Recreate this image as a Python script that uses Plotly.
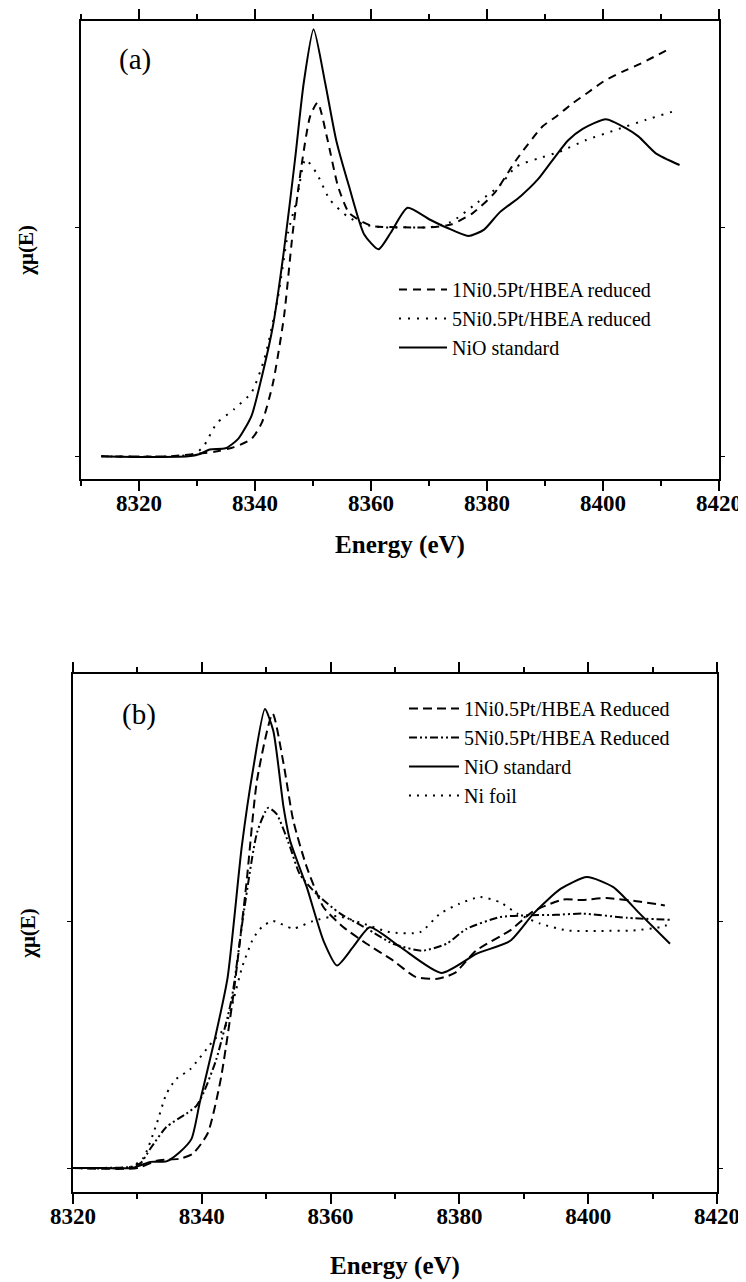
import plotly.graph_objects as go

# ---------------- data: panel (a) ----------------
E_a_1ni = [8313.5, 8325, 8333, 8336.4, 8339.4, 8341.2, 8343.1, 8345.0, 8346.5, 8348.0, 8349.5, 8350.8,
           8352.5, 8354.3, 8356.2, 8358.8, 8360.3, 8365, 8370, 8373.8, 8377.6, 8381.3, 8385.1, 8389.6,
           8391.9, 8394.8, 8397.6, 8400.1, 8403.4, 8406.1, 8408.3, 8411.7]
V_a_1ni = [0.0, 0.0, 0.02, 0.04, 0.076, 0.148, 0.32, 0.61, 0.976, 1.266, 1.484, 1.545,
           1.383, 1.18, 1.063, 1.02, 1.005, 1.0, 1.0, 1.012, 1.063, 1.15, 1.296, 1.441,
           1.483, 1.542, 1.592, 1.637, 1.68, 1.71, 1.738, 1.782]

E_a_5ni = [8313.5, 8325, 8329.5, 8331.1, 8333.4, 8336.4, 8339.4, 8341.6, 8343.9, 8345.7, 8347.2, 8348.7,
           8350.6, 8352.9, 8355.9, 8358.8, 8362, 8366, 8370, 8373.8, 8378.3, 8382.1, 8385.1, 8388.8,
           8392.5, 8397.1, 8402.2, 8407.4, 8412.9]
V_a_5ni = [0.0, 0.0, 0.01, 0.042, 0.144, 0.206, 0.279, 0.424, 0.686, 0.976, 1.121, 1.296,
           1.237, 1.121, 1.048, 1.012, 1.0, 1.0, 1.0, 1.023, 1.107, 1.18, 1.266, 1.30,
           1.33, 1.381, 1.425, 1.469, 1.512]

E_a_nio = [8313.5, 8320, 8328.5, 8330.5, 8332.2, 8334.9, 8337.1, 8339.4, 8341.2, 8343.1, 8345.0, 8346.9,
           8348.4, 8350.1, 8352.1, 8354.0, 8356.2, 8358.8, 8361.3, 8363.4, 8366.3, 8370.1, 8373.1,
           8376.8, 8379.5, 8382.1, 8385.8, 8388.8, 8391.5, 8394.0, 8396.5, 8400.5, 8404.0, 8406.1,
           8409.1, 8413.2]
V_a_nio = [0.0, -0.003, 0.0, 0.01, 0.03, 0.035, 0.076, 0.177, 0.35, 0.57, 0.90, 1.296,
           1.63, 1.865, 1.63, 1.38, 1.18, 0.97, 0.904, 0.976, 1.085, 1.034, 0.998,
           0.962, 0.99, 1.063, 1.136, 1.21, 1.30, 1.38, 1.43, 1.472, 1.432, 1.397,
           1.323, 1.272]

# ---------------- data: panel (b) ----------------
E_b_1ni = [8320, 8330, 8333, 8336.6, 8338.6, 8340.9, 8342.9, 8344.9, 8346.9, 8348.6, 8351.0, 8352.7,
           8354.2, 8356.3, 8358.9, 8362.0, 8365.6, 8369.7, 8373.2, 8376.6, 8379.3, 8382.6, 8388.0,
           8391.4, 8396.1, 8399.0, 8402.8, 8407.5, 8411.9]
V_b_1ni = [0.0, 0.0, 0.03, 0.038, 0.058, 0.14, 0.354, 0.70, 1.145, 1.574, 1.84, 1.636,
           1.407, 1.218, 1.056, 0.975, 0.908, 0.84, 0.774, 0.766, 0.79, 0.88, 0.964,
           1.038, 1.087, 1.085, 1.093, 1.08, 1.063]

E_b_5ni = [8320, 8329, 8330.5, 8332, 8334.5, 8337.6, 8339.2, 8340.2, 8342.2, 8344.6, 8346.6, 8348.6,
           8350.3, 8351.6, 8353.7, 8355.2, 8357.8, 8361.5, 8365.6, 8369.7, 8374.2, 8378, 8381.1,
           8386.3, 8390.4, 8395, 8399.2, 8406.0, 8412.7]
V_b_5ni = [0.0, 0.005, 0.02, 0.078, 0.166, 0.22, 0.253, 0.30, 0.436, 0.68, 1.05, 1.36,
           1.458, 1.434, 1.30, 1.19, 1.11, 1.03, 0.97, 0.908, 0.88, 0.908, 0.968,
           1.016, 1.023, 1.025, 1.03, 1.013, 1.005]

E_b_nio = [8320, 8325, 8329, 8330.4, 8332, 8334.5, 8336.6, 8338.4, 8339.7, 8342, 8344, 8346.2,
           8348.0, 8349.8, 8351.1, 8352.7, 8353.7, 8356.3, 8358.9, 8361.0, 8363.5, 8366.1, 8370.8,
           8377.2, 8382.7, 8387.9, 8391.5, 8395.7, 8399.8, 8403.9, 8408.0, 8412.7]
V_b_nio = [0.0, 0.0, 0.0, 0.01, 0.025, 0.027, 0.065, 0.118, 0.267, 0.52, 0.77, 1.30,
           1.62, 1.858, 1.77, 1.46, 1.326, 1.137, 0.92, 0.82, 0.895, 0.975, 0.895,
           0.79, 0.868, 0.92, 1.03, 1.13, 1.178, 1.137, 1.03, 0.908]

E_b_foil = [8320, 8329, 8330.9, 8333, 8334.5, 8336, 8338.2, 8341.6, 8343.6, 8344.9, 8346.3, 8348,
            8349.3, 8351, 8354.2, 8357.3, 8361, 8365, 8369.2, 8373.9, 8377, 8380, 8383.2, 8386.3,
            8389, 8392.5, 8396.7, 8402, 8407, 8411.1, 8413]
V_b_foil = [0.0, 0.005, 0.04, 0.18, 0.30, 0.36, 0.40, 0.51, 0.57, 0.68, 0.816, 0.93,
            0.975, 1.0, 0.97, 1.0, 1.02, 0.99, 0.955, 0.955, 1.03, 1.07, 1.097, 1.076,
            1.03, 0.99, 0.962, 0.96, 0.962, 0.975, 0.99]

names_a = ["1Ni0.5Pt/HBEA reduced", "5Ni0.5Pt/HBEA reduced", "NiO standard"]
names_b = ["1Ni0.5Pt/HBEA Reduced", "5Ni0.5Pt/HBEA Reduced", "NiO standard", "Ni foil"]

major_ticks = [8320, 8340, 8360, 8380, 8400, 8420]
minor_ticks = [8310, 8330, 8350, 8370, 8390, 8410]

W, H = 746, 1282
OFF = 8  # the page body adds an 8px margin around the figure
SERIF = "Liberation Serif"

def px_x(p):
    return (p - OFF) / W

def px_y(p):
    return 1 - (p - OFF) / H

fig = go.Figure()

def add(E, V, name, dash, xa, ya, legend):
    fig.add_trace(go.Scatter(
        x=E, y=V, name=name, mode="lines",
        line=dict(color="black", width=2, dash=dash, shape="spline", smoothing=0.6),
        xaxis=xa, yaxis=ya, legend=legend))

add(E_a_1ni, V_a_1ni, names_a[0], "8px,6px", "x", "y", "legend")
add(E_a_5ni, V_a_5ni, names_a[1], "2px,7px", "x", "y", "legend")
add(E_a_nio, V_a_nio, names_a[2], "solid", "x", "y", "legend")

add(E_b_1ni, V_b_1ni, names_b[0], "9px,5px", "x2", "y2", "legend2")
add(E_b_5ni, V_b_5ni, names_b[1], "8px,3px,2px,3px,2px,3px", "x2", "y2", "legend2")
add(E_b_nio, V_b_nio, names_b[2], "solid", "x2", "y2", "legend2")
add(E_b_foil, V_b_foil, names_b[3], "2px,6px", "x2", "y2", "legend2")

tickfont = dict(family=SERIF, size=23, color="black", weight="bold")
titlefont = dict(family=SERIF, size=25, color="black", weight="bold")

def xaxis(domain, rng, anchor, standoff):
    return dict(
        domain=domain, range=rng, anchor=anchor, automargin=False,
        tickmode="array", tickvals=major_ticks, ticktext=[str(t) for t in major_ticks],
        ticks="outside", ticklen=10, tickwidth=2, tickcolor="black",
        ticklabelstandoff=-8,
        minor=dict(tickmode="array", tickvals=minor_ticks, ticks="outside", ticklen=5,
                   tickwidth=2, tickcolor="black"),
        showline=True, linewidth=2, linecolor="black", mirror="ticks",
        showgrid=False, zeroline=False, tickfont=tickfont,
        title=dict(text="Energy (eV)", font=titlefont, standoff=standoff),
    )

def yaxis(domain, rng, anchor, standoff):
    return dict(
        domain=domain, range=rng, anchor=anchor, automargin=False,
        tickmode="array", tickvals=[0, 1], showticklabels=False,
        ticks="outside", ticklen=4, tickwidth=1, tickcolor="black",
        showline=True, linewidth=2, linecolor="black", mirror="ticks",
        showgrid=False, zeroline=False,
        title=dict(text="χμ(E)", font=dict(family=SERIF, size=21, color="black", weight="bold"),
                   standoff=standoff),
    )

fig.update_layout(
    width=W, height=H,
    margin=dict(l=0, r=0, t=0, b=0, autoexpand=False),
    paper_bgcolor="white", plot_bgcolor="white",
    xaxis=xaxis([px_x(81), px_x(719)], [8310, 8420], "y", 21),
    yaxis=yaxis([px_y(479), px_y(20.7)], [-0.099, 1.902], "x", 36),
    xaxis2=xaxis([px_x(73), px_x(717)], [8320, 8420], "y2", 29),
    yaxis2=yaxis([px_y(1192), px_y(674)], [-0.097, 2.0], "x2", 26),
    legend=dict(x=px_x(394), y=px_y(270), xanchor="left", yanchor="top",
                font=dict(family=SERIF, size=20, color="black"),
                bgcolor="rgba(0,0,0,0)", itemwidth=48, tracegroupgap=0),
    legend2=dict(x=px_x(404), y=px_y(689), xanchor="left", yanchor="top",
                 font=dict(family=SERIF, size=20, color="black"),
                 bgcolor="rgba(0,0,0,0)", itemwidth=50, tracegroupgap=0),
    showlegend=True,
    annotations=[
        dict(text="(a)", x=px_x(135), y=px_y(60), xref="paper", yref="paper",
             showarrow=False, xanchor="center", yanchor="middle",
             font=dict(family=SERIF, size=29, color="black")),
        dict(text="(b)", x=px_x(139), y=px_y(714), xref="paper", yref="paper",
             showarrow=False, xanchor="center", yanchor="middle",
             font=dict(family=SERIF, size=29, color="black")),
    ],
)

fig.write_html("out.html")
